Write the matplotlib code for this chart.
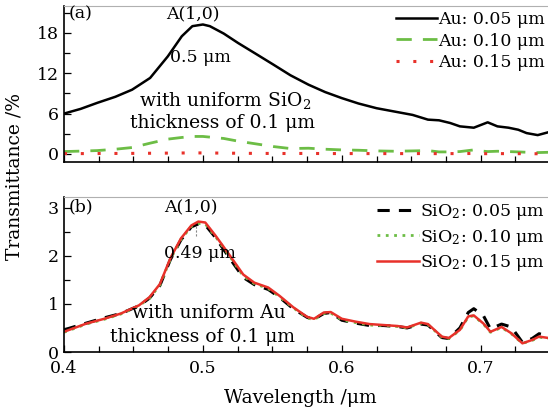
import matplotlib
matplotlib.use("Agg")
import matplotlib.pyplot as plt
from matplotlib.ticker import MultipleLocator

plt.rcParams['font.family'] = ['DejaVu Serif']
plt.rcParams['mathtext.fontset'] = 'dejavuserif'

# ---------------- data ----------------
# panel (a): Au thickness varied, SiO2 = 0.1 um
wl_a = [0.400, 0.412, 0.424, 0.437, 0.449, 0.462, 0.4747, 0.4848, 0.4924, 0.500, 0.505,
        0.515, 0.5253, 0.538, 0.5506, 0.563, 0.576, 0.588, 0.600, 0.612, 0.625, 0.638,
        0.651, 0.662, 0.670, 0.678, 0.685, 0.695, 0.700, 0.705, 0.712, 0.720, 0.727,
        0.733, 0.741, 0.750]
au005 = [6.0, 6.7, 7.6, 8.5, 9.55, 11.3, 14.5, 17.5, 19.0, 19.25, 19.0,
         17.9, 16.5, 14.9, 13.3, 11.7, 10.3, 9.2, 8.3, 7.5, 6.8, 6.3,
         5.8, 5.1, 5.0, 4.6, 4.1, 3.9, 4.3, 4.7, 4.1, 3.9, 3.6,
         3.1, 2.8, 3.3]
au010 = [0.35, 0.42, 0.5, 0.7, 0.95, 1.6, 2.2, 2.45, 2.6, 2.6, 2.5,
         2.3, 1.9, 1.5, 1.1, 0.8, 0.85, 0.7, 0.6, 0.55, 0.45, 0.4,
         0.45, 0.5, 0.3, 0.3, 0.35, 0.6, 0.45, 0.35, 0.4, 0.35, 0.3,
         0.25, 0.2, 0.25]
au015 = [0.05, 0.05, 0.06, 0.07, 0.08, 0.1, 0.12, 0.14, 0.15, 0.15, 0.14,
         0.12, 0.1, 0.08, 0.07, 0.06, 0.08, 0.05, 0.06, 0.05, 0.05, 0.05,
         0.05, 0.06, 0.04, 0.05, 0.05, 0.07, 0.05, 0.04, 0.05, 0.04, 0.04,
         0.03, 0.03, 0.04]

# panel (b): SiO2 thickness varied, Au = 0.1 um
wl_b = [0.400, 0.416, 0.429, 0.441, 0.454, 0.4616, 0.469, 0.4766, 0.4842, 0.4917, 0.4967,
        0.5017, 0.509, 0.519, 0.529, 0.537, 0.547, 0.555, 0.565, 0.575, 0.580, 0.587,
        0.592, 0.600, 0.610, 0.620, 0.630, 0.640, 0.647, 0.657, 0.662, 0.672, 0.677,
        0.685, 0.691, 0.695, 0.702, 0.707, 0.715, 0.722, 0.730, 0.737, 0.742, 0.749]
sio2_005 = [0.46, 0.60, 0.71, 0.80, 0.96, 1.12, 1.38, 1.92, 2.33, 2.60, 2.66,
            2.64, 2.38, 1.96, 1.55, 1.40, 1.30, 1.14, 0.90, 0.72, 0.68, 0.80,
            0.82, 0.66, 0.60, 0.55, 0.55, 0.53, 0.50, 0.58, 0.56, 0.30, 0.28,
            0.50, 0.82, 0.90, 0.75, 0.48, 0.58, 0.52, 0.20, 0.28, 0.38, 0.33]
sio2_010 = [0.41, 0.58, 0.68, 0.79, 0.96, 1.12, 1.39, 1.93, 2.34, 2.61, 2.67,
            2.66, 2.40, 2.00, 1.58, 1.42, 1.32, 1.15, 0.92, 0.71, 0.67, 0.80,
            0.81, 0.67, 0.61, 0.56, 0.55, 0.53, 0.50, 0.60, 0.57, 0.31, 0.28,
            0.45, 0.73, 0.75, 0.58, 0.41, 0.51, 0.38, 0.18, 0.24, 0.31, 0.28]
sio2_015 = [0.42, 0.59, 0.69, 0.80, 0.97, 1.14, 1.41, 1.95, 2.36, 2.63, 2.71,
            2.69, 2.42, 2.02, 1.61, 1.44, 1.34, 1.17, 0.93, 0.73, 0.69, 0.82,
            0.83, 0.69, 0.63, 0.58, 0.56, 0.54, 0.51, 0.61, 0.58, 0.32, 0.29,
            0.46, 0.74, 0.76, 0.59, 0.42, 0.52, 0.39, 0.18, 0.25, 0.32, 0.29]

labels_a = ['Au: 0.05 μm', 'Au: 0.10 μm', 'Au: 0.15 μm']
labels_b = ['SiO$_2$: 0.05 μm', 'SiO$_2$: 0.10 μm', 'SiO$_2$: 0.15 μm']

GREEN = '#6cbd45'
RED = '#e8312a'
FS = 12.5
FA = 13.5

fig = plt.figure(figsize=(5.48, 4.11), dpi=100)
W, H = 548, 411
L = 64 / W
axa = fig.add_axes([L, (H - 162) / H, 1.0 - L + 0.004, 156 / H])
axb = fig.add_axes([L, (H - 352) / H, 1.0 - L + 0.004, 155 / H])

axa.plot(wl_a, au005, color='black', lw=1.8, label=labels_a[0])
axa.plot(wl_a, au010, color=GREEN, lw=2.0, ls=(0, (5.5, 4)), label=labels_a[1])
axa.plot(wl_a, au015, color=RED, lw=2.2, ls=(0, (1, 4.5)), label=labels_a[2])

axb.plot(wl_b, sio2_005, color='black', lw=2.2, ls=(0, (4, 3)), label=labels_b[0])
axb.plot(wl_b, sio2_010, color=GREEN, lw=2.0, ls=(0, (1, 2)), label=labels_b[1])
axb.plot(wl_b, sio2_015, color=RED, lw=1.8, label=labels_b[2])

for ax in (axa, axb):
    ax.set_xlim(0.4, 0.75)
    ax.xaxis.set_major_locator(MultipleLocator(0.1))
    ax.xaxis.set_minor_locator(MultipleLocator(0.025))
    ax.tick_params(which='both', direction='in', labelsize=FS, top=False, right=False)
    ax.tick_params(which='major', length=5, width=0.9)
    ax.tick_params(which='minor', length=4, width=0.9)
    ax.tick_params(axis='x', pad=6)
    ax.spines['right'].set_visible(False)
    ax.spines['top'].set_color('#b0b0b0')
    ax.spines['top'].set_linewidth(0.8)
    ax.spines['left'].set_linewidth(1.2)
    ax.spines['bottom'].set_linewidth(1.2)
    ax.legend(loc='upper right', bbox_to_anchor=(1.0, 1.0),
              frameon=False, fontsize=FS, handlelength=2.4, handletextpad=0.05,
              labelspacing=0.25, borderpad=0.2, borderaxespad=0.1)

axa.set_ylim(-1.2, 22.0)
axa.yaxis.set_major_locator(MultipleLocator(6))
axa.yaxis.set_minor_locator(MultipleLocator(3))
axa.tick_params(axis='x', labelbottom=False)

axb.set_ylim(0, 3.22)
axb.yaxis.set_major_locator(MultipleLocator(1))
axb.yaxis.set_minor_locator(MultipleLocator(0.5))
axb.set_xticks([0.4, 0.5, 0.6, 0.7])
axb.set_xticklabels(['0.4', '0.5', '0.6', '0.7'])

# annotations panel (a)
axa.text(0.403, 20.8, '(a)', fontsize=FS, va='center', ha='left')
axa.text(0.493, 20.8, 'A(1,0)', fontsize=FS, va='center', ha='center')
axa.text(0.498, 14.4, '0.5 μm', fontsize=FS, va='center', ha='center')
axa.text(0.516, 8.0, 'with uniform SiO$_2$', fontsize=FA, va='center', ha='center')
axa.text(0.514, 4.6, 'thickness of 0.1 μm', fontsize=FA, va='center', ha='center')

# annotations panel (b)
axb.text(0.403, 3.02, '(b)', fontsize=FS, va='center', ha='left')
axb.text(0.491, 3.02, 'A(1,0)', fontsize=FS, va='center', ha='center')
axb.plot([0.495, 0.495], [2.62, 2.38], color='#888888', lw=0.8, ls=(0, (2, 1.5)))
axb.text(0.498, 2.04, '0.49 μm', fontsize=FS, va='center', ha='center')
axb.text(0.504, 0.81, 'with uniform Au', fontsize=FA, va='center', ha='center')
axb.text(0.500, 0.31, 'thickness of 0.1 μm', fontsize=FA, va='center', ha='center')

fig.text(15 / W, 1 - 176 / H, 'Transmittance /%', rotation=90, fontsize=FA,
         ha='center', va='center')
fig.text(300 / W, 1 - 398 / H, 'Wavelength /μm', fontsize=FA, ha='center', va='center')

fig.savefig('out.png', dpi=100, facecolor='white')
